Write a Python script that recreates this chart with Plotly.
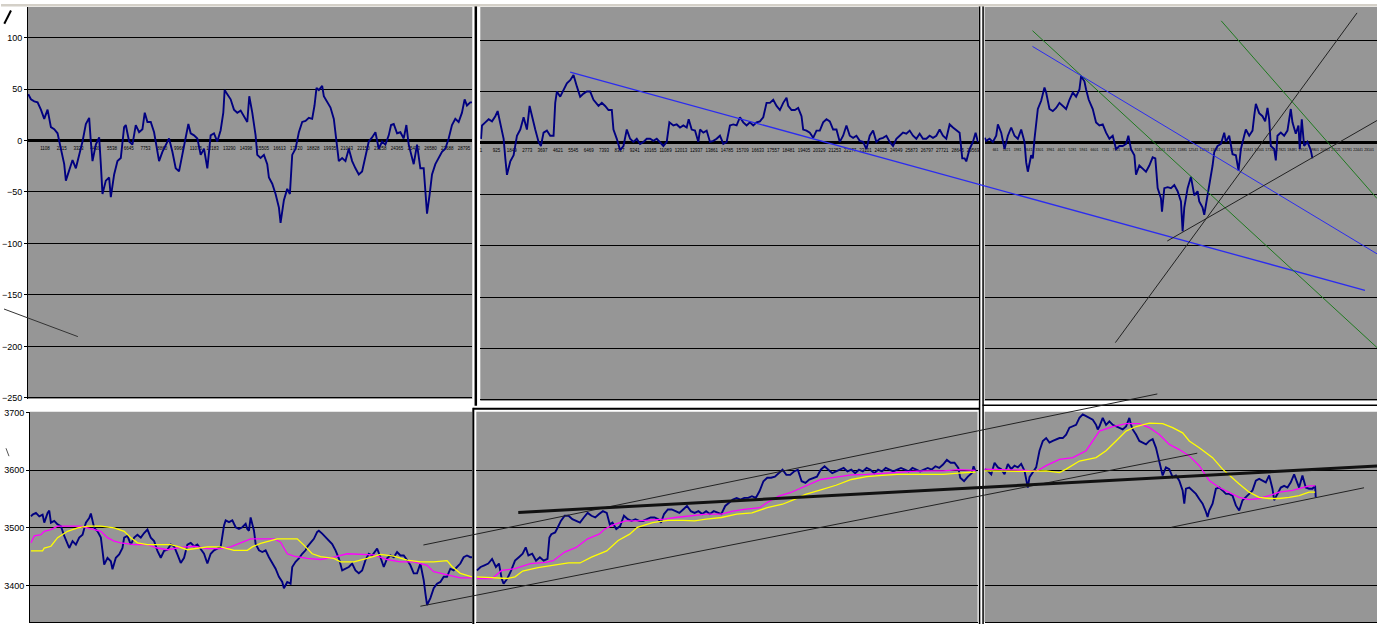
import plotly.graph_objects as go

W, H = 1378, 628

# ---------------- top row: oscillator (one window per column) ----------------
tl_bar = [0, 176, 396, 616, 836, 1056, 1276, 1496, 1716, 1936,
          2156, 2376, 2486, 2706, 2926, 3146, 3366, 3586, 3806, 4026,
          4136, 4246, 4466, 4686, 4796, 4906, 5126, 5346, 5456, 5676,
          5896, 6116, 6336, 6446, 6666, 6886, 7106, 7326, 7546, 7700,
          7876, 8096, 8316, 8426, 8646, 8866, 9086, 9306, 9526, 9746,
          9966, 10186, 10406, 10582, 10736, 10956, 11176, 11396, 11616, 11836,
          12056, 12276, 12496, 12716, 12892, 12980, 13156, 13376, 13596, 13816,
          14036, 14256, 14476, 14608, 14806, 15026, 15136, 15356, 15576, 15796,
          15906, 16126, 16346, 16566, 16676, 16896, 17116, 17292, 17446, 17666,
          17886, 18106, 18326, 18546, 18766, 18920, 19052, 19206, 19426, 19536,
          19756, 19976, 20196, 20372, 20526, 20746, 20966, 21186, 21406, 21626,
          21846, 22066, 22286, 22506, 22726, 22946, 23166, 23386, 23606, 23826,
          23980, 24156, 24376, 24596, 24816, 24992, 25146, 25366, 25476, 25696,
          25916, 26136, 26246, 26356, 26532, 26686, 26906, 27126, 27346, 27566,
          27786, 28006, 28226, 28446, 28666, 28842, 28996, 29216, 29326]
tl_val = [45, 40, 38, 37, 30, 21, 30, 13, 11, 7,
          -8, -23, -39, -30, -19, -27, -14, -1, 16, 22,
          -1, -20, -4, 3, -23, -52, -39, -36, -55, -33,
          -20, -17, 13, 15, -1, -4, 15, 8, 11, 27,
          18, 18, 8, -1, -20, -11, -4, 2, -11, -27,
          -30, -14, 2, 16, 7, 5, 2, -14, -8, -27,
          5, 7, -1, 10, 27, 49, 45, 40, 30, 27,
          29, 24, 18, 43, 27, 5, -14, -17, -14, -23,
          -36, -42, -52, -65, -80, -58, -47, -52, -14, -8,
          8, 18, 19, 22, 21, 34, 51, 49, 53, 43,
          37, 32, 21, -1, -20, -17, -20, -8, -20, -27,
          -33, -30, -17, -1, 3, 8, -8, -1, -4, 5,
          15, 16, 7, 8, 2, 15, -4, -17, -23, -4,
          -27, -27, -49, -71, -52, -33, -23, -17, -11, -8,
          2, 15, 21, 18, 27, 40, 34, 37, 37]

tm_bar = [0, 60, 260, 460, 660, 860, 1000, 1120, 1260, 1360,
          1460, 1560, 1760, 1960, 2160, 2360, 2560, 2760, 2920, 3060,
          3260, 3460, 3600, 3760, 3960, 4160, 4360, 4460, 4560, 4760,
          4960, 5160, 5360, 5560, 5760, 5960, 6160, 6360, 6560, 6760,
          7060, 7260, 7460, 7660, 7860, 7960, 8160, 8360, 8560, 8760,
          8960, 9160, 9360, 9560, 9760, 9960, 10160, 10360, 10560, 10760,
          10960, 11160, 11320, 11560, 11760, 11960, 12160, 12360, 12480, 12660,
          12860, 13060, 13160, 13360, 13560, 13760, 13960, 14160, 14360, 14560,
          14760, 14960, 15160, 15360, 15560, 15760, 15960, 16160, 16360, 16560,
          16760, 16960, 17160, 17360, 17560, 17760, 17960, 18160, 18360, 18460,
          18660, 18860, 19060, 19260, 19360, 19560, 19760, 19960, 20160, 20360,
          20560, 20760, 20960, 21160, 21360, 21560, 21760, 21960, 22160, 22360,
          22560, 22760, 22960, 23160, 23360, 23560, 23760, 23960, 24160, 24360,
          24560, 24760, 24960, 25160, 25360, 25560, 25760, 25960, 26160, 26360,
          26560, 26760, 26960, 27160, 27360, 27560, 27760, 27960, 28160, 28360,
          28560, 28760, 28920, 29060, 29160, 29360, 29560, 29720, 29860]
tm_val = [4, 17, 20, 23, 21, 26, 31, 23, 12, 4,
          -15, -31, -18, -12, 7, 13, 25, 13, 36, 26,
          13, 1, -3, 10, 12, 7, 7, 39, 50, 45,
          52, 58, 61, 66, 55, 45, 48, 50, 50, 42,
          36, 39, 36, 32, 32, 13, 4, -7, -3, 13,
          4, 1, 4, -1, 1, 4, 4, 2, 4, 1,
          -3, 1, 20, 17, 18, 15, 17, 15, 23, 13,
          12, 1, 13, 10, 12, 1, 2, 4, 7, -1,
          1, 17, 18, 17, 25, 20, 17, 20, 17, 20,
          21, 25, 39, 39, 42, 36, 32, 39, 44, 36,
          32, 32, 34, 26, 13, 12, 10, 5, 12, 12,
          20, 23, 21, 13, 13, 1, 7, 17, 7, 5,
          7, 2, 1, -6, 7, 12, 1, 4, 5, 7,
          1, -3, 4, 7, 10, 9, 12, 7, 4, 9,
          4, 4, 7, 5, 7, 13, 7, 4, 18, 15,
          12, 10, -15, -15, -18, -6, 1, 10, 1]

tr_bar = [0, 100, 300, 500, 700, 800, 1000, 1200, 1400, 1600,
          1800, 2000, 2200, 2400, 2500, 2600, 2800, 2900, 3000, 3100,
          3200, 3400, 3600, 3700, 3900, 4100, 4300, 4500, 4700, 4900,
          5100, 5300, 5500, 5700, 5800, 6000, 6100, 6260, 6500, 6700,
          6900, 7100, 7300, 7500, 7700, 7900, 8100, 8300, 8500, 8640,
          8800, 9000, 9100, 9300, 9500, 9700, 9900, 10100, 10260, 10400,
          10600, 10660, 10800, 11000, 11200, 11400, 11600, 11800, 11900, 12000,
          12200, 12400, 12600, 12800, 12900, 13100, 13200, 13340, 13500, 13600,
          13700, 13800, 14000, 14200, 14400, 14500, 14700, 14900, 15100, 15260,
          15400, 15600, 15700, 15900, 16100, 16200, 16300, 16500, 16700, 16860,
          17000, 17100, 17200, 17400, 17500, 17600, 17800, 18000, 18200, 18400,
          18500, 18700, 18860, 18940, 19060, 19200, 19400, 19600, 19700]
tr_val = [5, 2, 4, 1, 7, 18, 10, -6, 7, 15,
          7, 4, 13, 1, -19, -28, -12, -15, 4, 17,
          33, 41, 54, 49, 33, 31, 34, 39, 36, 33,
          42, 49, 45, 52, 65, 60, 52, 42, 33, 20,
          17, 18, 10, 4, 7, -6, -3, -3, -1, 7,
          -6, -12, -31, -22, -25, -28, -22, -14, -15, -44,
          -54, -67, -44, -43, -44, -41, -47, -57, -86, -63,
          -44, -33, -51, -47, -57, -63, -70, -57, -38, -31,
          -22, -9, -3, -1, 10, 1, 7, -11, -12, -27,
          -6, 7, 13, 7, 12, 26, 38, 29, 26, 21,
          34, 23, -3, -6, -17, 7, 10, 7, 12, 33,
          20, 9, 17, -6, 23, -3, 1, -7, -15]

# category labels printed along the zero line
tl_ticks = [1108, 2215, 3323, 4430, 5538, 6645, 7753, 8860, 9968, 11075, 12183, 13290,
            14398, 15505, 16613, 17720, 18828, 19935, 21043, 22150, 23258, 24365, 25473,
            26580, 27688, 28795]
tm_ticks = [1, 925, 1849, 2773, 3697, 4621, 5545, 6469, 7393, 8317, 9241, 10165, 11089,
            12013, 12937, 13861, 14785, 15709, 16633, 17557, 18481, 19405, 20329, 21253,
            22177, 23101, 24025, 24949, 25873, 26797, 27721, 28645, 29569]
tr_ticks = [661, 1321, 1981, 2641, 3301, 3961, 4621, 5281, 5941, 6601, 7261, 7921, 8581,
            9241, 9901, 10561, 11221, 11881, 12541, 13201, 13861, 14521, 15181, 15841,
            16501, 17161, 17821, 18481, 19141, 19801, 20461, 21121, 21781, 22441, 23101]

# ---------------- bottom row: price with two moving averages ----------------
bl_bar = [0, 100, 300, 500, 700, 800, 1000, 1100, 1200, 1400, 1600, 1800, 2000, 2200,
          2300, 2500, 2700, 2900, 3100, 3300, 3500, 3600, 3800, 4000, 4200, 4300, 4400,
          4600, 4800, 4900, 5100, 5300, 5500, 5600, 5800, 6000, 6200, 6400, 6600, 6800,
          7000, 7200, 7400, 7600, 7800, 8000, 8200, 8400, 8600, 8800, 9000, 9200, 9400,
          9600, 9800, 10000, 10400, 10600, 10800, 11000, 11200, 11400, 11600, 11700,
          11900, 12100, 12300, 12500, 12700, 12900, 13000, 13100, 13200, 13300, 13400,
          13500, 13700, 13900, 14100, 14300, 14500, 14700, 14900, 15100, 15200, 15400,
          15600, 15700, 15900, 16100, 16300, 16500, 16600, 16800, 17000, 17200, 17300,
          17500, 17700, 17900, 18100, 18300, 18500, 18700, 18900, 19100, 19300, 19500,
          19700, 19900, 20100, 20300, 20500, 20700, 20800, 21000, 21200, 21400, 21600,
          21800, 22000, 22200, 22400, 22600, 22800, 23000, 23200, 23400, 23600, 23700,
          23800, 24000, 24200, 24400, 24600, 24800, 25000, 25200, 25400, 25600, 25800,
          26000, 26200, 26400, 26500]
bl_val = [3520, 3523, 3526, 3520, 3523, 3509, 3526, 3530, 3509, 3512, 3506, 3503, 3486, 3471,
          3465, 3477, 3471, 3483, 3488, 3509, 3517, 3525, 3500, 3494, 3483, 3460, 3436,
          3448, 3442, 3428, 3448, 3454, 3465, 3483, 3486, 3471, 3483, 3488, 3483, 3491,
          3497, 3483, 3477, 3460, 3448, 3460, 3462, 3471, 3468, 3454, 3439, 3448, 3471,
          3474, 3468, 3471, 3455, 3438, 3455, 3461, 3464, 3467, 3504, 3513,
          3510, 3513, 3501, 3498, 3501, 3507, 3498, 3495, 3518, 3504, 3495,
          3472, 3461, 3458, 3461, 3449, 3438, 3429, 3415, 3406, 3395, 3406,
          3403, 3432, 3441, 3447, 3455, 3461, 3467, 3475, 3481, 3493, 3495,
          3490, 3484, 3478, 3472, 3461, 3447, 3426, 3429, 3432, 3438, 3426,
          3421, 3426, 3444, 3455, 3452, 3461, 3464, 3449, 3432, 3447, 3452,
          3449, 3458, 3452, 3452, 3444, 3435, 3421, 3421, 3438, 3409, 3386,
          3366, 3378, 3395, 3403, 3406, 3415, 3415, 3429, 3426, 3432, 3438,
          3449, 3452, 3449, 3449]
bl_fast_bar = [0, 200, 600, 800, 1200, 1600, 2200, 3000, 3800, 4200, 4600, 5000, 5400, 6200,
               7000, 7600, 8200, 9000, 9800, 10600, 11400, 12000, 12600, 13200, 14000, 14600,
               15000, 15400, 15800, 16600, 17400, 18200, 19000, 19800, 20600, 21400, 22200,
               23000, 23800, 24200, 25000, 25800, 26500]
bl_fast_val = [3474, 3486, 3488, 3494, 3497, 3503, 3503, 3503, 3497, 3494, 3483, 3477, 3474, 3471,
               3471, 3465, 3462, 3466, 3468, 3464, 3464, 3467, 3474, 3481, 3481, 3481,
               3475, 3455, 3451, 3447, 3445, 3449, 3455, 3454, 3453, 3445, 3441,
               3441, 3435, 3424, 3418, 3413, 3413]
bl_slow_bar = [0, 700, 800, 1200, 1600, 2200, 2800, 3400, 4200, 5000, 5600, 6000, 6400, 7000,
               8400, 8800, 9400, 10600, 11400, 12200, 13000, 13300, 13800, 14400, 14800, 15400,
               16000, 16400, 16900, 17400, 18200, 18600, 19400, 20200, 21000, 21800, 22600,
               23400, 24200, 25000, 25300, 25800, 26500]
bl_slow_val = [3460, 3460, 3465, 3468, 3483, 3494, 3500, 3503, 3503, 3500, 3494, 3483, 3474, 3471,
               3471, 3468, 3462, 3467, 3467, 3461, 3461, 3467, 3473, 3478, 3481, 3481,
               3481, 3470, 3455, 3450, 3447, 3441, 3441, 3447, 3454, 3451, 3444,
               3441, 3441, 3443, 3433, 3421, 3415]

bm_bar = [0, 200, 400, 600, 800, 1000, 1160, 1300, 1400, 1600, 1800, 2000, 2200, 2400, 2560,
          2700, 2900, 3100, 3300, 3500, 3700, 3800, 3900, 4100, 4240, 4400, 4600, 4800, 5000,
          5200, 5400, 5600, 5800, 6000, 6200, 6400, 6600, 6800, 6960, 7100, 7300, 7500, 7700,
          7900, 8100, 8300, 8500, 8700, 8900, 9100, 9300, 9500, 9640, 9800, 10000, 10200,
          10400, 10600, 10800, 11000, 11200, 11400, 11600, 11800, 12000, 12200, 12400, 12600,
          12800, 13000, 13200, 13400, 13600, 13800, 14000, 14200, 14400, 14600, 14800, 15000,
          15200, 15400, 15600, 15800, 16000, 16200, 16400, 16600, 16800, 17000, 17200, 17400,
          17600, 17800, 18000, 18200, 18400, 18600, 18800, 19000, 19200, 19400, 19600, 19800,
          20000, 20200, 20400, 20600, 20800, 21000, 21200, 21400, 21600, 21800, 22000, 22200,
          22400, 22600, 22800, 23000, 23200, 23400, 23600, 23800, 24000, 24200, 24400, 24600,
          24800, 25000, 25200, 25300, 25500, 25700, 25900, 26000, 26100]
bm_val = [3426, 3432, 3435, 3438, 3446, 3432, 3438, 3412, 3403, 3412, 3426, 3443, 3449, 3455, 3466,
          3452, 3455, 3443, 3449, 3443, 3446, 3483, 3489, 3492, 3501, 3512, 3521, 3521, 3515,
          3512, 3509, 3518, 3526, 3521, 3518, 3524, 3529, 3526, 3506, 3509, 3498, 3503, 3521,
          3515, 3512, 3515, 3512, 3512, 3515, 3518, 3518, 3515, 3509, 3524, 3532, 3532,
          3529, 3526, 3532, 3538, 3529, 3526, 3529, 3524, 3529, 3524, 3529, 3526,
          3524, 3538, 3544, 3549, 3552, 3549, 3552, 3552, 3555, 3552, 3564, 3581,
          3587, 3587, 3589, 3595, 3601, 3592, 3592, 3598, 3601, 3581, 3578, 3584,
          3587, 3589, 3601, 3607, 3601, 3595, 3598, 3601, 3604, 3598, 3601, 3595,
          3601, 3598, 3604, 3601, 3595, 3601, 3598, 3604, 3601, 3598, 3601, 3604,
          3601, 3598, 3604, 3601, 3598, 3601, 3604, 3601, 3607, 3604, 3610, 3618,
          3613, 3613, 3604, 3587, 3581, 3589, 3595, 3607, 3598]
bm_fast_bar = [0, 800, 1300, 2000, 2800, 3600, 4000, 4600, 5200, 5800, 6400, 6700, 7200, 7800,
               8400, 9200, 9800, 10400, 11200, 12000, 12800, 13400, 14000, 14800, 15200, 15800,
               16400, 17200, 18000, 18800, 19600, 20400, 21200, 22000, 22800, 23600, 24400,
               25200, 26100]
bm_fast_val = [3412, 3412, 3426, 3429, 3438, 3440, 3443, 3458, 3466, 3481, 3489, 3498, 3506, 3512,
               3512, 3513, 3515, 3518, 3521, 3524, 3524, 3529, 3532, 3535, 3544, 3555,
               3561, 3572, 3584, 3588, 3592, 3593, 3595, 3597, 3598, 3599, 3599,
               3601, 3600]
bm_slow_bar = [0, 1600, 2000, 2400, 3200, 4000, 4800, 5400, 6000, 6800, 7400, 8000, 8400, 9200,
               10000, 10800, 11400, 12000, 12800, 13600, 14400, 15200, 16000, 16600, 17200,
               18000, 18800, 19600, 20400, 21200, 22000, 22800, 23600, 24400, 25200, 26100]
bm_slow_val = [3415, 3412, 3415, 3425, 3431, 3435, 3439, 3439, 3449, 3460, 3478, 3489, 3501, 3509,
               3513, 3513, 3512, 3515, 3518, 3524, 3526, 3535, 3541, 3549, 3558,
               3566, 3574, 3584, 3589, 3591, 3593, 3593, 3593, 3593, 3595, 3597]

br_bar = [0, 200, 400, 600, 800, 1000, 1200, 1400, 1600, 1800, 2000, 2200, 2400, 2500, 2600,
          2700, 2900, 3100, 3300, 3500, 3700, 3900, 4100, 4300, 4500, 4700, 4900, 5100, 5300,
          5500, 5700, 5900, 6100, 6300, 6500, 6700, 6800, 6900, 7100, 7300, 7500, 7700, 7900,
          8100, 8300, 8500, 8700, 8800, 8900, 9100, 9300, 9500, 9700, 9900, 10100, 10300,
          10500, 10700, 10900, 11100, 11300, 11500, 11700, 11900, 12000, 12100, 12300, 12500,
          12700, 12900, 13100, 13300, 13400, 13500, 13700, 13900, 14100, 14300, 14500, 14700,
          14900, 15100, 15300, 15500, 15700, 15900, 16100, 16300, 16500, 16700, 16900, 17100,
          17300, 17400, 17600, 17800, 18000, 18200, 18400, 18600, 18740, 18900, 19100, 19300,
          19500, 19700, 19860, 19900]
br_val = [3602, 3599, 3593, 3613, 3605, 3602, 3593, 3611, 3602, 3608, 3605, 3611, 3599, 3582, 3570,
          3588, 3596, 3605, 3634, 3651, 3656, 3648, 3651, 3654, 3656, 3656, 3662, 3674, 3676,
          3679, 3691, 3697, 3694, 3691, 3688, 3679, 3671, 3676, 3691, 3679, 3685, 3679, 3676,
          3674, 3671, 3676, 3691, 3679, 3671, 3662, 3651, 3648, 3645, 3651, 3654, 3639,
          3616, 3591, 3605, 3602, 3588, 3591, 3582, 3565, 3542, 3568, 3570, 3565,
          3559, 3550, 3542, 3528, 3519, 3530, 3542, 3568, 3570, 3565, 3559, 3559,
          3556, 3539, 3530, 3548, 3553, 3559, 3565, 3582, 3585, 3582, 3579, 3591,
          3568, 3548, 3559, 3570, 3573, 3570, 3579, 3593, 3582, 3570, 3591, 3570,
          3568, 3568, 3573, 3553]
br_fast_bar = [0, 2500, 3100, 3700, 4500, 5300, 6100, 6500, 6900, 7700, 8500, 9300, 9900, 10500,
               11100, 11700, 12300, 12900, 13500, 14100, 14700, 15300, 15900, 16500, 17100,
               17700, 18500, 19100, 19500, 19860]
br_fast_val = [3602, 3600, 3598, 3608, 3619, 3622, 3634, 3651, 3668, 3676, 3681, 3681, 3674, 3662,
               3645, 3636, 3625, 3608, 3582, 3570, 3562, 3553, 3549, 3551, 3556,
               3562, 3565, 3570, 3573, 3573]
br_slow_bar = [0, 2500, 3700, 4500, 4900, 5700, 6700, 7300, 7900, 8500, 9100, 9900, 10700, 11300,
               11900, 12300, 12900, 13700, 14300, 14700, 15300, 15900, 16500, 17100, 17700,
               18300, 18900, 19500, 19860]
br_slow_val = [3599, 3598, 3599, 3596, 3602, 3616, 3622, 3634, 3651, 3668, 3676, 3682, 3681, 3674,
               3665, 3651, 3639, 3622, 3602, 3591, 3576, 3562, 3553, 3551, 3551,
               3553, 3556, 3562, 3562]

# hand-drawn trend lines, in each window's own (bar, value) units: bar0, val0, bar1, val1
tl_lines = [(-1604, -163.7, 3280, -190.5)]
tl_marks = [(-1584, 113.4, -1142, 126.2)]
tm_blue = [(5358, 68.9, 53118, -143.4)]
tr_green = [(2880, 109.2, 23580, -199.1), (14220, 118.8, 23580, -54.1)]
tr_blue = [(2880, 93.9, 23580, -107.9)]
tr_black = [(7860, -194.3, 22380, 126.5), (10980, -95.4, 23580, 21.8)]
bl_marks = [(-1500, 3638.3, -1320, 3624.5)]
bm_channel = [(-2796, 3470.2, 35615, 3732.6), (-2953, 3363.8, 37705, 3629.7)]
bm_thick = [(2169, 3526.8, 47112, 3607.4)]
br_lines = [(11220, 3501.0, 22800, 3569.6)]

NAVY, MAGENTA, YELLOW = "#000080", "#ff00ff", "#ffff00"
PLOT_BG = "#969696"
FONT = "Arial, 'Liberation Sans', sans-serif"

# window layout: plot box in pixels (left, right, top, bottom) and axis ranges
panels = [
    dict(box=(27, 472, 3, 400), xr=[-20, 29350], yr=[-251, 129.7], top=True, labels=True, ticks=tl_ticks),
    dict(box=(480, 979, 3, 402), xr=[-42, 29900], yr=[-251, 132.3], top=True, labels=False, ticks=tm_ticks),
    dict(box=(985, 1378, 3, 402), xr=[0, 23580], yr=[-251, 132.3], top=True, labels=False, ticks=tr_ticks),
    dict(box=(29, 472, 413, 626), xr=[-60, 26520], yr=[3336.4, 3701.7], top=False, labels=True),
    dict(box=(476, 978, 413, 626), xr=[-26, 26208], yr=[3336.4, 3701.7], top=False, labels=False),
    dict(box=(985, 1378, 413, 626), xr=[0, 23580], yr=[3336.4, 3701.7], top=False, labels=False),
]


def aid(letter, i):
    return letter if i == 1 else f"{letter}{i}"


def lkey(letter, i):
    return f"{letter}axis" if i == 1 else f"{letter}axis{i}"


def full_range(r, d):
    span = (r[1] - r[0]) / (d[1] - d[0])
    return [r[0] - span * d[0], r[0] + span * (1 - d[0])]


fig = go.Figure()
layout = {}
shapes = []

for i, p in enumerate(panels, start=1):
    x0, x1, y0, y1 = p["box"]
    xd = [x0 / W, x1 / W]
    yd = [1 - y1 / H, 1 - y0 / H]
    shapes.append(dict(type="rect", xref="paper", yref="paper", x0=xd[0], x1=xd[1],
                       y0=yd[0], y1=yd[1], fillcolor=PLOT_BG, line=dict(width=0), layer="below"))
    xa = dict(domain=xd, range=p["xr"], showgrid=False, zeroline=False, fixedrange=True)
    ya = dict(domain=yd, range=p["yr"], anchor=aid("x", i), showgrid=True, gridcolor="black",
              gridwidth=1, fixedrange=True, tickfont=dict(family=FONT, size=9, color="black"),
              showticklabels=p["labels"], ticks="outside" if p["labels"] else "",
              ticklen=3, tickcolor="black", showline=p["labels"], linecolor="black", linewidth=1)
    if p["top"]:
        ya.update(tickmode="linear", tick0=0, dtick=50, zeroline=True, zerolinecolor="black",
                  zerolinewidth=2.5)
        zero_pos = yd[0] + (0 - p["yr"][0]) / (p["yr"][1] - p["yr"][0]) * (yd[1] - yd[0])
        xa.update(anchor="free", position=zero_pos, tickmode="array", tickvals=p["ticks"],
                  ticktext=[str(t) for t in p["ticks"]], ticks="outside", ticklen=3,
                  tickcolor="rgba(0,0,0,0)", layer="below traces", showline=False, tickangle=0,
                  tickfont=dict(family=FONT, size=4.5 if i != 3 else 3.5, color="black"))
    else:
        ya.update(tickmode="linear", tick0=3400, dtick=100, zeroline=False)
        xa.update(anchor=aid("y", i), showticklabels=False, showline=True, linecolor="black",
                  linewidth=1, ticks="")
    layout[lkey("x", i)] = xa
    layout[lkey("y", i)] = ya
    # full-figure twin axes so hand-drawn lines can run past their own window
    j = i + 6
    layout[lkey("x", j)] = dict(domain=[0, 1], range=full_range(p["xr"], xd), visible=False,
                                anchor=aid("y", j), fixedrange=True)
    layout[lkey("y", j)] = dict(domain=[0, 1], range=full_range(p["yr"], yd), visible=False,
                                anchor=aid("x", j), fixedrange=True)


def add_line(i, xs, ys, color, width):
    fig.add_trace(go.Scatter(x=xs, y=ys, mode="lines", line=dict(color=color, width=width),
                             xaxis=aid("x", i), yaxis=aid("y", i), hoverinfo="skip",
                             showlegend=False))


def add_segments(i, segs, color, width):
    for b0, v0, b1, v1 in segs:
        add_line(i + 6, [b0, b1], [v0, v1], color, width)


add_line(1, tl_bar, tl_val, NAVY, 1.9)
add_line(2, tm_bar, tm_val, NAVY, 1.9)
add_line(3, tr_bar, tr_val, NAVY, 1.9)
add_line(4, bl_bar, bl_val, NAVY, 1.9)
add_line(4, bl_fast_bar, bl_fast_val, MAGENTA, 1.3)
add_line(4, bl_slow_bar, bl_slow_val, YELLOW, 1.3)
add_line(5, bm_bar, bm_val, NAVY, 1.9)
add_line(5, bm_fast_bar, bm_fast_val, MAGENTA, 1.3)
add_line(5, bm_slow_bar, bm_slow_val, YELLOW, 1.3)
add_line(6, br_bar, br_val, NAVY, 1.9)
add_line(6, br_fast_bar, br_fast_val, MAGENTA, 1.3)
add_line(6, br_slow_bar, br_slow_val, YELLOW, 1.3)

add_segments(1, tl_lines, "#333333", 1)
add_segments(1, tl_marks, "#000000", 2)
add_segments(2, tm_blue, "#2b2bf0", 1.3)
add_segments(3, tr_green, "#1f7a1f", 1)
add_segments(3, tr_blue, "#2b2bf0", 1)
add_segments(3, tr_black, "#222222", 1)
add_segments(4, bl_marks, "#555555", 1)
add_segments(5, bm_channel, "#222222", 1)
add_segments(5, bm_thick, "#111111", 3)
add_segments(6, br_lines, "#222222", 1)

# window frames / separators between the three Excel windows
frames = [
    (475.5, 0, 475.5, 407, 2.5),
    (473, 409, 473, 628, 2),
    (473, 410, 980, 410, 2),
    (980, 0, 980, 628, 1.5),
    (983.5, 0, 983.5, 628, 1.5),
    (983, 406.5, 1378, 406.5, 1.5),
]
for fx0, fy0, fx1, fy1, fw in frames:
    shapes.append(dict(type="line", xref="paper", yref="paper", x0=fx0 / W, x1=fx1 / W,
                       y0=1 - fy0 / H, y1=1 - fy1 / H, line=dict(color="black", width=fw),
                       layer="below"))
shapes.append(dict(type="rect", xref="paper", yref="paper", x0=0, x1=1, y0=1 - 2.5 / H, y1=1,
                   fillcolor="#d4d0c8", line=dict(width=0), layer="below"))

fig.update_layout(
    width=W, height=H,
    margin=dict(l=0, r=0, t=0, b=0),
    paper_bgcolor="white",
    plot_bgcolor="rgba(0,0,0,0)",
    showlegend=False,
    shapes=shapes,
    font=dict(family=FONT, size=9, color="black"),
    **layout,
)

# the page's default body margin would push the chart off the window origin
fig.write_html("out.html", config={"displayModeBar": False},
               post_script="document.body.style.margin='0';document.body.style.overflow='hidden';")
